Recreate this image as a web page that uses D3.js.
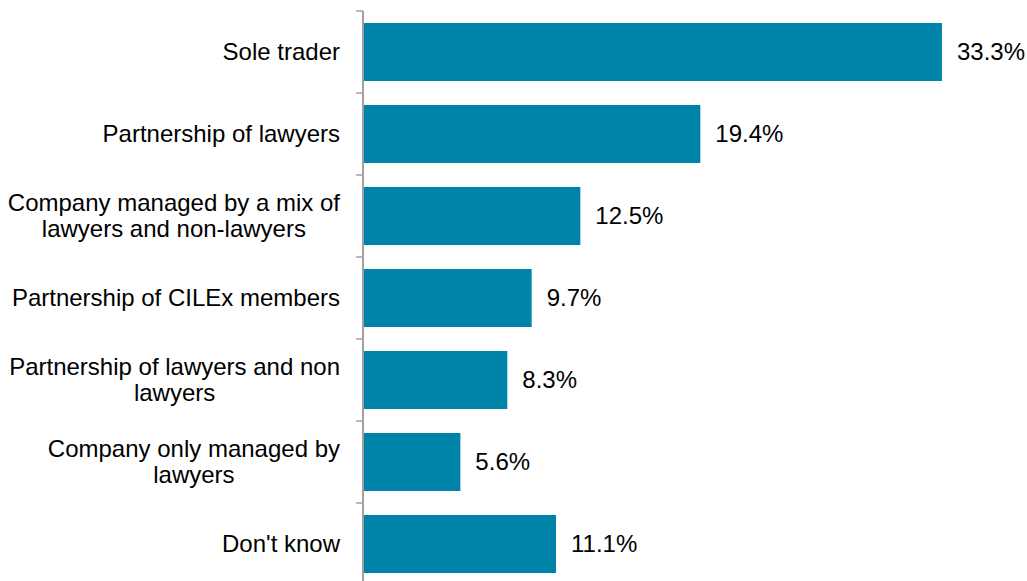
<!DOCTYPE html>
<html>
<head>
<meta charset="utf-8">
<script src="https://cdn.jsdelivr.net/npm/d3@7"></script>
<style>
  html, body { margin: 0; padding: 0; background: #fff; }
  svg { display: block; }
  text { font-family: "Liberation Sans", Arial, sans-serif; fill: #000; }
</style>
</head>
<body>
<svg id="chart" width="1027" height="581"></svg>
<script>
// Business structure shares (%)
const categories = [
  "Sole trader",
  "Partnership of lawyers",
  "Company managed by a mix of\nlawyers and non-lawyers",
  "Partnership of CILEx members",
  "Partnership of lawyers and non\nlawyers",
  "Company only managed by\nlawyers",
  "Don't know"
];
const values = [33.3, 19.4, 12.5, 9.7, 8.3, 5.6, 11.1];

const margin = { top: 11, left: 363 };
const fontSize = 24;
const labelRight = 340;

const svg = d3.select("#chart");

const x = d3.scaleLinear()
  .domain([0, 33.3])
  .range([margin.left, 942]);

const y = d3.scaleBand()
  .domain(categories)
  .range([margin.top, margin.top + 82 * categories.length])
  .paddingInner(0.293)
  .paddingOuter(0.1465);

const data = categories.map((c, i) => ({ c, v: values[i] }));

// Bars
svg.append("g")
  .selectAll("rect")
  .data(data)
  .join("rect")
  .attr("x", x(0))
  .attr("y", d => y(d.c))
  .attr("width", d => x(d.v) - x(0))
  .attr("height", y.bandwidth())
  .attr("fill", "#0083a8");

// Value labels
svg.append("g")
  .selectAll("text")
  .data(data)
  .join("text")
  .attr("x", d => x(d.v) + 15)
  .attr("y", d => y(d.c) + y.bandwidth() / 2)
  .attr("dy", "0.35em")
  .style("font-size", fontSize + "px")
  .text(d => d.v.toFixed(1) + "%");

// Category axis: line with ticks on band boundaries
const axis = svg.append("g");
const step = y.step();
const bounds = d3.range(categories.length + 1).map(i => margin.top + i * step);
axis.append("line")
  .attr("x1", x(0)).attr("x2", x(0))
  .attr("y1", bounds[0]).attr("y2", bounds[bounds.length - 1])
  .attr("stroke", "#a0a0a0")
  .attr("stroke-width", 2);
axis.selectAll("line.tick")
  .data(bounds)
  .join("line")
  .attr("class", "tick")
  .attr("x1", x(0) - 7).attr("x2", x(0))
  .attr("y1", d => d).attr("y2", d => d)
  .attr("stroke", "#a0a0a0")
  .attr("stroke-width", 1.5);

// Category labels: block right-aligned to the axis, lines centred within it
const lineH = 26;
svg.append("g")
  .selectAll("text")
  .data(categories)
  .join("text")
  .style("font-size", fontSize + "px")
  .each(function (d) {
    const lines = d.split("\n");
    const t = d3.select(this);
    const cy = y(d) + y.bandwidth() / 2;
    const spans = lines.map((ln, i) => t.append("tspan")
      .attr("y", cy + (i - (lines.length - 1) / 2) * lineH)
      .attr("dy", "0.35em")
      .text(ln));
    const widths = spans.map(s => s.node().getComputedTextLength());
    const maxW = d3.max(widths);
    if (lines.length === 1) {
      spans[0].attr("x", labelRight).attr("text-anchor", "end");
    } else {
      spans.forEach(s => s.attr("x", labelRight - maxW / 2).attr("text-anchor", "middle"));
    }
  });
</script>
</body>
</html>
